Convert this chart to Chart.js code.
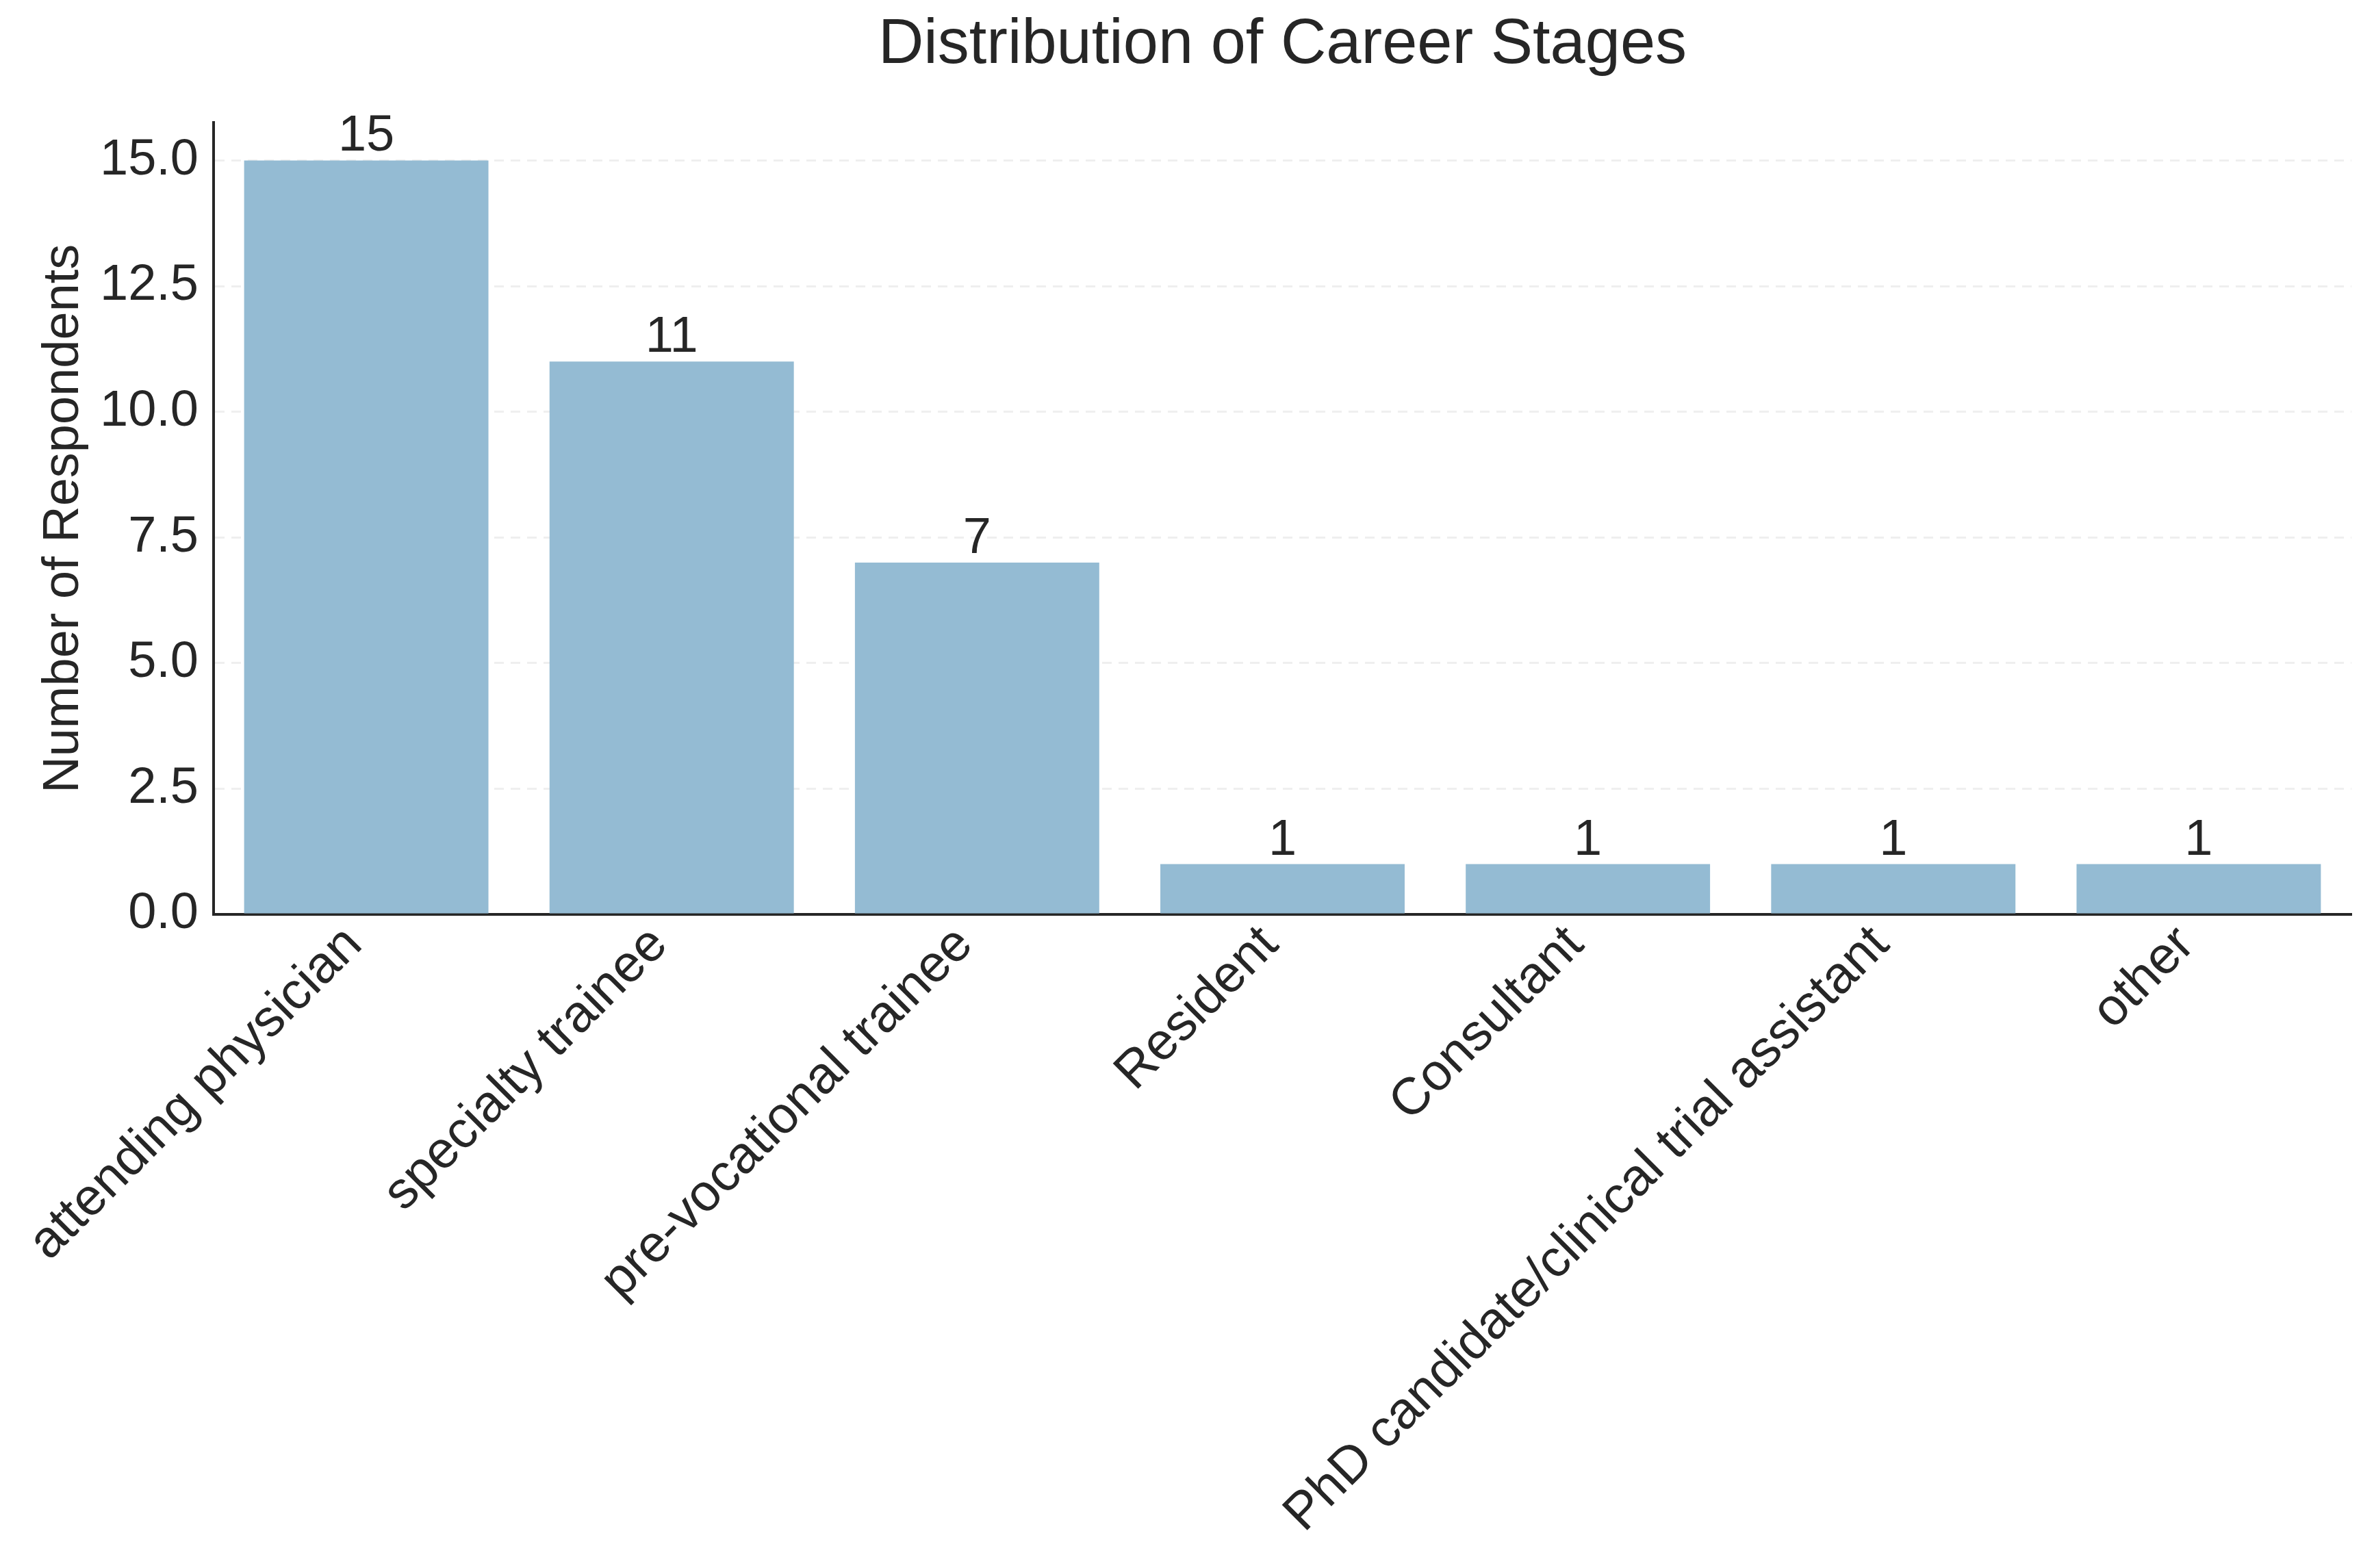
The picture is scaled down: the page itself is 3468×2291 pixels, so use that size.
<!DOCTYPE html>
<html>
<head>
<meta charset="utf-8">
<script src="https://cdn.jsdelivr.net/npm/chart.js@4/dist/chart.umd.min.js"></script>
<style>
  html, body { margin: 0; padding: 0; background: #fff; }
  #wrap { width: 3468px; height: 2291px; }
</style>
</head>
<body>
<div id="wrap"><canvas id="chart" width="3468" height="2291"></canvas></div>
<script>
// Career stage counts
var categories = [
    'attending physician'
    , 'specialty trainee'
    , 'pre-vocational trainee'
    , 'Resident'
    , 'Consultant'
    , 'PhD candidate/clinical trial assistant'
    , 'other'
];
var respondents = [15, 11, 7, 1, 1, 1, 1];
var yTicks = [0, 2.5, 5, 7.5, 10, 12.5, 15];

var ink = '#262626';
var fontFamily = "'Liberation Sans', Arial, sans-serif";

// bar value labels above each bar
var barLabels = {
    id: 'barLabels'
    , afterDatasetsDraw: function (chart) {
        var ctx = chart.ctx;
        var meta = chart.getDatasetMeta(0);
        ctx.save();
        ctx.font = '74px ' + fontFamily;
        ctx.fillStyle = ink;
        ctx.textAlign = 'center';
        ctx.textBaseline = 'alphabetic';
        meta.data.forEach(function (bar, i) {
            ctx.fillText(String(respondents[i]), bar.x, bar.y - 14);
        });
        ctx.restore();
    }
};

new Chart(document.getElementById('chart'), {
    type: 'bar'
    , data: {
        labels: categories
        , datasets: [{
            data: respondents
            , backgroundColor: '#94bbd3'
            , borderWidth: 0
            , barPercentage: 0.8
            , categoryPercentage: 1.0
        }]
    }
    , plugins: [barLabels]
    , options: {
        responsive: false
        , animation: false
        , devicePixelRatio: 1
        , layout: { padding: { left: 0, right: 33, top: 0, bottom: 0 } }
        , plugins: {
            legend: { display: false }
            , tooltip: { enabled: false }
            , title: {
                display: true
                , text: 'Distribution of Career Stages'
                , fullSize: false
                , color: ink
                , font: { family: fontFamily, size: 92, weight: 'normal', lineHeight: 1.2 }
                , padding: { top: 11, bottom: 58 }
            }
        }
        , scales: {
            x: {
                grid: { display: false, drawTicks: false }
                , border: { display: true, color: ink, width: 4 }
                , ticks: {
                    color: ink
                    , font: { family: fontFamily, size: 76 }
                    , maxRotation: 45
                    , minRotation: 45
                    , autoSkip: false
                    , padding: 0
                    , labelOffset: -18
                }
                , afterFit: function (scale) { scale.height = 955; }
            }
            , y: {
                min: 0
                , max: 15.75
                , z: 1
                , grid: {
                    color: 'rgba(190,190,190,0.25)'
                    , lineWidth: 3
                    , drawTicks: false
                }
                , border: { display: true, color: ink, width: 4, dash: [14, 10] }
                , ticks: {
                    color: ink
                    , font: { family: fontFamily, size: 74 }
                    , padding: 22
                    , callback: function (v) { return Number(v).toFixed(1); }
                }
                , afterBuildTicks: function (scale) {
                    scale.ticks = yTicks.map(function (v) { return { value: v }; });
                }
                , title: {
                    display: true
                    , text: 'Number of Respondents'
                    , color: ink
                    , font: { family: fontFamily, size: 74, lineHeight: 1.2 }
                    , padding: { top: 49, bottom: 0 }
                }
                , afterFit: function (scale) { scale.width = 312; }
            }
        }
    }
});
</script>
</body>
</html>
